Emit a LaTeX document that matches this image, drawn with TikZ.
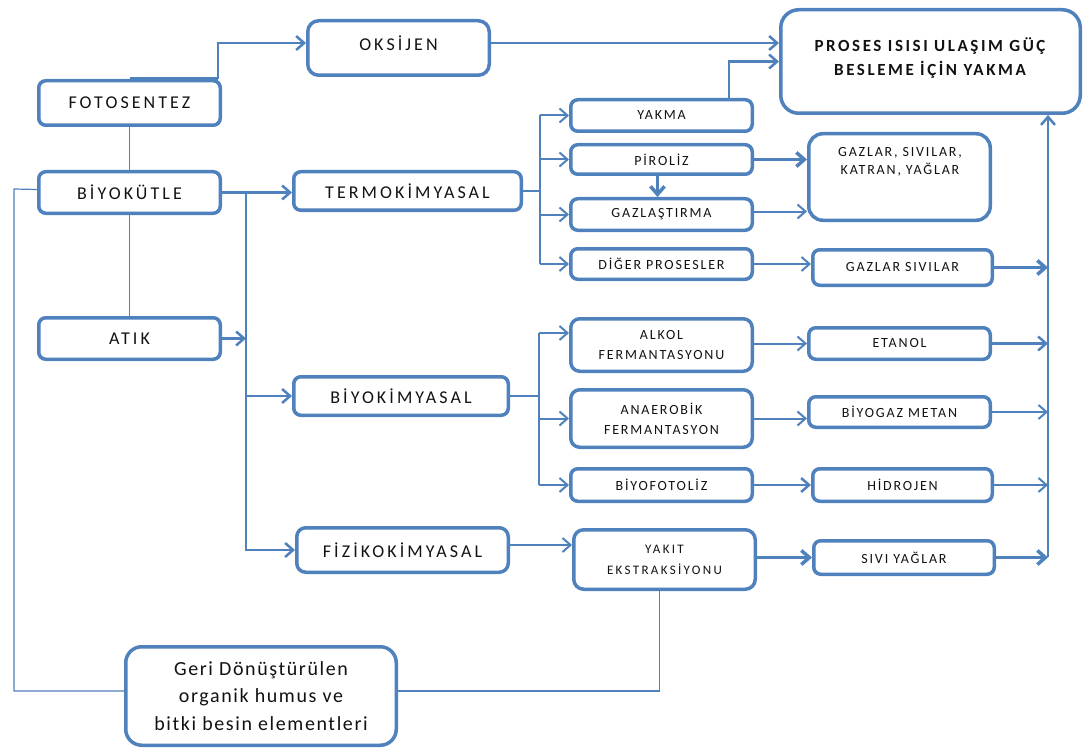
\documentclass[tikz,border=0pt]{standalone}
\usepackage{fontspec}
\setmainfont{Carlito}
\newfontfamily\bigf{Carlito}[LetterSpace=17]
\newfontfamily\smf{Carlito}[LetterSpace=13]
\newfontfamily\tyf{Carlito}[LetterSpace=18]
\newfontfamily\prf{Carlito}[LetterSpace=15]
\newfontfamily\grf{Carlito}[LetterSpace=8]
\usetikzlibrary{arrows.meta}
\definecolor{bl}{RGB}{79,129,189}
\definecolor{tx}{RGB}{18,18,18}
\tikzset{
  bxs/.style={draw=bl, line width=3.5pt, rounded corners=7pt, inner sep=1pt, text=tx, align=center},
  bigt/.style={font=\bigf\fontsize{18}{20}\selectfont},
  smt/.style={font=\smf\fontsize{14}{20}\selectfont},
  tyt/.style={font=\tyf\fontsize{13}{21}\selectfont},
  prt/.style={font=\prf\bfseries\fontsize{17}{24}\selectfont},
  grt/.style={font=\grf\fontsize{20}{27.5}\selectfont},
  cn/.style={draw=bl, line width=2.5pt},
  mn/.style={draw=bl, line width=2pt},
  thk/.style={draw=bl, line width=3.5pt},
  tn/.style={draw=bl, line width=1.2pt},
  >={Straight Barb[length=8pt,width=14pt]},
}
\newcommand\bx[7]{\node[bxs,#6,minimum width={#4-#2-3.5},minimum height={#5-#3-3.5}] (#1) at ({(#2+#4)/2},{(#3+#5)/2}) {#7};}
\begin{document}
\begin{tikzpicture}[x=1pt,y=-1pt]
\useasboundingbox[fill=white] (0,0) rectangle (1085,749);
% boxes
\bx{foto}{37}{79}{222}{127}{bigt}{FOTOSENTEZ}
\bx{oks}{306}{19}{491}{77}{rounded corners=11pt}{}
\node[bigt,text=tx] (oksT) at (398.5,43) {OKSİJEN};
\bx{biyo}{37}{170}{222}{215}{bigt}{BİYOKÜTLE}
\bx{atik}{37}{316}{222}{361}{bigt}{ATIK}
\bx{term}{292}{170}{523}{212}{bigt}{TERMOKİMYASAL}
\bx{bkim}{292}{375}{510}{417}{bigt}{BİYOKİMYASAL}
\bx{fiz}{295}{526}{510}{574}{bigt,rounded corners=9pt}{FİZİKOKİMYASAL}
\bx{proses}{779}{8}{1082}{115}{rounded corners=18pt}{}
\node[prt,text=tx,align=center] (prosesT) at (930,58) {PROSES ISISI ULAŞIM GÜÇ\\BESLEME İÇİN YAKMA};
\bx{yakma}{569}{98}{754}{133}{smt}{YAKMA}
\bx{piro}{569}{143}{754}{176}{smt}{PİROLİZ}
\bx{gazl}{569}{197}{754}{232}{smt}{GAZLAŞTIRMA}
\bx{diger}{569}{247}{754}{281}{smt}{DİĞER PROSESLER}
\bx{gbox}{807}{132}{992}{222}{rounded corners=14pt}{}
\node[smt,text=tx,align=center,font=\smf\fontsize{14}{18}\selectfont] (gboxT) at (900,162) {GAZLAR, SIVILAR,\\KATRAN, YAĞLAR};
\bx{gs}{811}{248}{994}{287}{smt}{GAZLAR SIVILAR}
\bx{alkol}{569}{317}{754}{373}{smt,rounded corners=9pt}{ALKOL\\FERMANTASYONU}
\bx{etanol}{807}{326}{992}{361}{smt}{ETANOL}
\bx{anaer}{569}{388}{754}{449}{smt,rounded corners=9pt}{ANAEROBİK\\FERMANTASYON}
\bx{biyogaz}{807}{395}{992}{429}{smt}{BİYOGAZ METAN}
\bx{bfot}{569}{467}{754}{503}{smt}{BİYOFOTOLİZ}
\bx{hidro}{811}{467}{994}{503}{smt}{HİDROJEN}
\bx{yakit}{572}{528}{757}{591}{tyt,rounded corners=10pt}{YAKIT\\EKSTRAKSİYONU}
\bx{sivi}{812}{539}{996}{576}{smt}{SIVI YAĞLAR}
\bx{geri}{124}{645}{398}{747}{grt,rounded corners=16pt}{Geri Dönüştürülen\\organik humus ve\\bitki besin elementleri}
% left part
\draw[draw=bl,line width=4pt] (foto.north) -- ([xshift=-4pt]foto.north east);
\coordinate (f1) at ([xshift=-4pt]foto.north east);
\coordinate (o1) at ([yshift=5pt]oks.west);
\draw[cn,->] (f1) |- (o1);
\draw[tn] (foto.south) -- (biyo.north);
\draw[tn] (biyo.south) -- (atik.north);
\draw[cn,->] (biyo.east) -- (biyo.east -| term.west);
\coordinate (tk) at (246,192.5);
\draw[cn,->] (tk) |- (fiz.west);
\draw[cn,->] (tk |- bkim.west) -- (bkim.west);
\draw[cn,->] (atik.east) -- (atik.east -| tk);
% loop
\coordinate (lx) at (14,189);
\coordinate (g1) at ([yshift=5pt]geri.west);
\coordinate (b1) at ([yshift=3pt]biyo.west);
\draw[tn] (b1) -- (lx) -- (lx |- g1) -- (g1);
\coordinate (g2) at ([yshift=5pt]geri.east);
\coordinate (y1) at ([xshift=-5pt]yakit.south);
\draw[tn] (g2) -| (y1);
% termokimyasal branch
\coordinate (tbr) at (540,191);
\draw[tn] (term.east) -- (term.east -| tbr);
\draw[mn] (tbr |- yakma.west) -- (tbr |- diger.west);
\foreach \n in {yakma,piro,gazl,diger} {\draw[mn,->] (tbr |- \n.west) -- (\n.west);}
\coordinate (ya) at ([xshift=-25pt]yakma.north east);
\draw[cn,->] (ya) |- (proses.west);
\coordinate (o2) at ([yshift=5pt]oks.east);
\draw[cn,->] (o2) -- (o2 -| proses.west);
\draw[thk,->] (piro.east) -- (piro.east -| gbox.west);
\coordinate (gz) at ([yshift=3pt]gazl.east);
\draw[mn,->] (gz) -- (gz -| gbox.west);
\coordinate (p1) at ([xshift=-4pt]piro.south);
\draw[thk,->] (p1) -- (p1 |- gazl.north);
\draw[mn,->] (diger.east) -- (diger.east -| gs.west);
% collector
\coordinate (col) at (1048,557);
\draw[cn,->] (col) -- (col |- proses.south);
\draw[thk,->] (gs.east) -- (gs.east -| col);
\draw[cn,->] (etanol.east) -- (etanol.east -| col);
\draw[mn,->] (biyogaz.east) -- (biyogaz.east -| col);
\draw[mn,->] (hidro.east) -- (hidro.east -| col);
\draw[thk,->] (sivi.east) -- (sivi.east -| col);
% biyokimyasal branch
\coordinate (bbr) at (539,396);
\draw[tn] (bkim.east) -- (bkim.east -| bbr);
\coordinate (a1) at ([yshift=12pt]alkol.west);
\draw[mn] (a1 -| bbr) -- (bbr |- bfot.west);
\draw[mn,->] (a1 -| bbr) -- (a1);
\draw[mn,->] (bbr |- anaer.west) -- (anaer.west);
\draw[mn,->] (bbr |- bfot.west) -- (bfot.west);
\draw[mn,->] (etanol.west -| alkol.east) -- (etanol.west);
\draw[mn,->] (anaer.east) -- (anaer.east -| biyogaz.west);
\draw[cn,->] (bfot.east) -- (bfot.east -| hidro.west);
% fizikokimyasal
\coordinate (fz) at ([yshift=5pt]fiz.east);
\draw[mn,->] (fz) -- (fz -| yakit.west);
\draw[thk,->] (sivi.west -| yakit.east) -- (sivi.west);
\end{tikzpicture}
\end{document}
